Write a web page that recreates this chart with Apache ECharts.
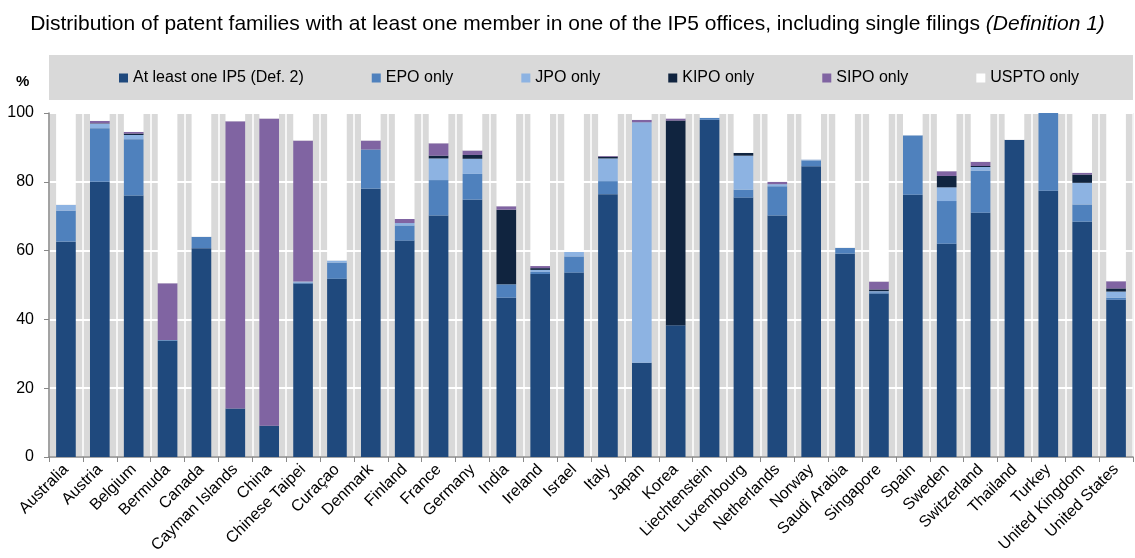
<!DOCTYPE html>
<html>
<head>
<meta charset="utf-8">
<script src="https://cdn.jsdelivr.net/npm/echarts@6/dist/echarts.min.js"></script>
<style>
html,body{margin:0;padding:0;background:#fff;}
#c{width:1135px;height:558px;}
</style>
</head>
<body>
<div id="c"></div>
<script>
const categories = ['Australia','Austria','Belgium','Bermuda','Canada','Cayman Islands','China','Chinese Taipei','Curaçao','Denmark','Finland','France','Germany','India','Ireland','Israel','Italy','Japan','Korea','Liechtenstein','Luxembourg','Netherlands','Norway','Saudi Arabia','Singapore','Spain','Sweden','Switzerland','Thailand','Turkey','United Kingdom','United States'];

const ip5Def2 = [62.6,80.0,76.0,33.8,60.7,14.1,9.1,50.4,51.8,78.0,62.9,70.2,74.8,46.3,53.2,53.6,76.4,27.4,38.3,98.0,75.4,70.2,84.5,59.1,47.5,76.2,62.0,71.0,92.2,77.4,68.4,45.7];
const epoOnly = [9.0,15.6,16.4,0.2,3.3,0,0,0.3,4.7,11.4,4.4,10.3,7.5,3.9,0.6,4.7,3.8,0,0,0.6,2.3,8.5,1.7,1.7,0.4,17.3,12.4,12.2,0,22.6,5.0,0.6];
const jpoOnly = [1.7,1.3,1.2,0,0,0,0,0.3,0.6,0,0.7,6.3,4.4,0,0.6,1.3,6.6,69.9,0,0,9.9,0.6,0.3,0,0.3,0,4.0,1.1,0,0,6.3,1.8];
const kipoOnly = [0,0.1,0.4,0,0,0,0,0,0,0,0,0.8,1.1,21.7,0.5,0,0.5,0,59.5,0,0.8,0,0,0,0.5,0,3.3,0.3,0,0,2.4,0.9];
const sipoOnly = [0,0.7,0.5,16.5,0,83.5,89.3,41.0,0,2.6,1.2,3.6,1.3,1.0,0.6,0,0.2,0.7,0.6,0,0,0.7,0,0,2.3,0,1.4,1.2,0,0,0.5,2.1];
const usptoOnly = [26.7,2.3,5.5,49.5,36.0,2.4,1.6,8.0,42.9,8.0,30.8,8.8,10.9,27.1,44.5,40.4,12.5,2.0,1.6,1.4,11.6,20.0,13.5,39.2,49.0,6.5,16.9,14.2,7.8,0,17.4,48.9];

const yTicks = [0,20,40,60,80,100];

const seriesNames = ['At least one IP5 (Def. 2)','EPO only','JPO only','KIPO only','SIPO only','USPTO only'];
const seriesData = [ip5Def2, epoOnly, jpoOnly, kipoOnly, sipoOnly, usptoOnly];
const colors = ['#1f497d','#4f81bd','#8db3e2','#10243f','#8064a2','#ffffff'];

const chart = echarts.init(document.getElementById('c'), null, {renderer:'canvas'});
const FONT = '"Liberation Sans", Arial, sans-serif';

chart.setOption({
  animation: false,
  textStyle: {fontFamily: FONT},
  title: {
    text: '{n|Distribution of patent families with at least one member in one of the IP5 offices, including single filings }{i|(Definition 1)}',
    left: 'center',
    top: 9,
    textStyle: {
      fontWeight: 'normal',
      rich: {
        n: {fontSize: 21, color: '#000', fontWeight: 'normal', fontFamily: FONT},
        i: {fontSize: 21, color: '#000', fontWeight: 'normal', fontStyle: 'italic', fontFamily: FONT}
      }
    }
  },
  graphic: [
    {type: 'rect', shape: {x: 49, y: 55, width: 1084, height: 45}, style: {fill: '#d9d9d9'}, z: -1, silent: true},
    {type: 'text', left: 16, top: 74, style: {text: '%', font: 'bold 15px "Liberation Sans", Arial, sans-serif', fill: '#000'}}
  ],
  legend: {
    left: 119,
    top: 70,
    itemWidth: 9,
    itemHeight: 9,
    itemGap: 68,
    icon: 'rect',
    padding: 0,
    textStyle: {fontSize: 16, color: '#000', fontFamily: FONT},
    data: seriesNames.map(n => ({name: n, itemStyle: n === 'USPTO only' ? {color: '#fff', borderWidth: 0} : undefined}))
  },
  grid: {
    left: 49, right: 2, top: 113, bottom: 101,
    show: true,
    backgroundColor: '#d9d9d9',
    borderColor: '#a6a6a6',
    borderWidth: 1,
    containLabel: false,
    outerBoundsMode: 'none'
  },
  xAxis: {
    type: 'category',
    data: categories,
    axisLine: {lineStyle: {color: '#888', width: 1.5}},
    axisTick: {show: true, interval: 0, length: 5, lineStyle: {color: '#888'}},
    axisLabel: {interval: 0, rotate: 45, fontSize: 16, color: '#000', margin: 10, fontFamily: FONT},
    splitLine: {show: true, interval: 0, lineStyle: {color: '#ffffff', width: 1.5}}
  },
  yAxis: {
    type: 'value',
    min: yTicks[0],
    max: yTicks[yTicks.length - 1],
    interval: 20,
    axisLine: {show: true, lineStyle: {color: '#888', width: 1.5}},
    axisTick: {show: true, length: 5, lineStyle: {color: '#888'}},
    axisLabel: {fontSize: 16, color: '#000', margin: 15, fontFamily: FONT},
    splitLine: {show: true, lineStyle: {color: '#ffffff', width: 2}}
  },
  series: seriesNames.map((n, i) => ({
    name: n,
    type: 'bar',
    stack: 'total',
    barWidth: '58%',
    data: seriesData[i],
    itemStyle: {color: colors[i]},
    emphasis: {disabled: true}
  }))
});
</script>
</body>
</html>
